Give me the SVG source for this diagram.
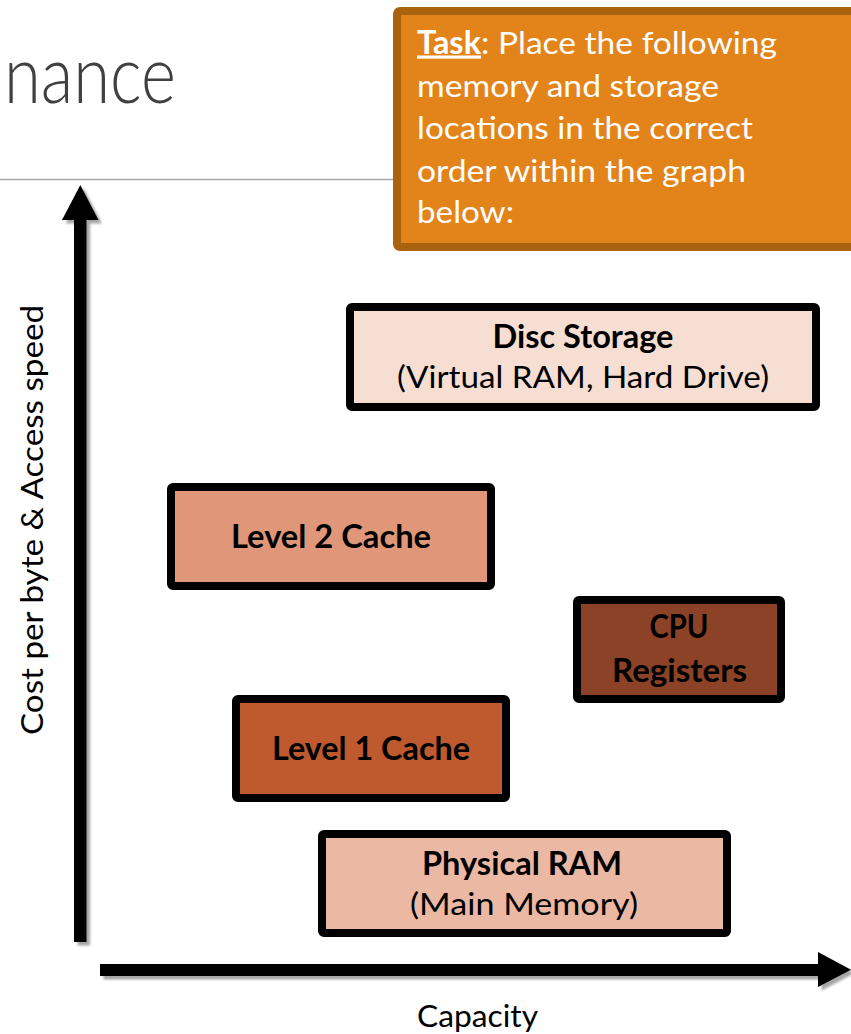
<svg xmlns="http://www.w3.org/2000/svg" width="851" height="1034" viewBox="0 0 851 1034">
<style>
.t{font-family:Lato,"Open Sans","Liberation Sans",sans-serif;font-size:31.5px;fill:#000}
.b{font-weight:bold}
.box{stroke:#000;stroke-width:8}
.w{fill:#fff}
</style>
<defs>
<filter id="sh" x="-10%" y="-10%" width="130%" height="130%">
<feDropShadow dx="3.5" dy="3.5" stdDeviation="1" flood-color="#000" flood-opacity="0.35"/>
</filter>
</defs>
<rect width="851" height="1034" fill="#fff"/>
<text x="176" y="103" text-anchor="end" textLength="172" lengthAdjust="spacingAndGlyphs" style="font-family:Lato,'Open Sans',sans-serif;font-weight:300;font-size:80px;fill:#404040">nance</text>
<line x1="0" y1="179.5" x2="395" y2="179.5" stroke="#a6a6a6" stroke-width="1.5"/>
<g id="task">
<rect x="397" y="11" width="480" height="236" rx="3" fill="#e3841a" stroke="#a9620f" stroke-width="8"/>
<text class="t w" y="53.5"><tspan x="417" class="b" text-decoration="underline" textLength="64" lengthAdjust="spacingAndGlyphs">Task</tspan><tspan x="481" textLength="296" lengthAdjust="spacingAndGlyphs">: Place the following</tspan></text>
<text class="t w" x="417" y="96.5" textLength="302" lengthAdjust="spacingAndGlyphs">memory and storage</text>
<text class="t w" x="417" y="139" textLength="336" lengthAdjust="spacingAndGlyphs">locations in the correct</text>
<text class="t w" x="417" y="181.5" textLength="329" lengthAdjust="spacingAndGlyphs">order within the graph</text>
<text class="t w" x="417" y="223" textLength="97" lengthAdjust="spacingAndGlyphs">below:</text>
</g>
<g id="axes" filter="url(#sh)">
<rect x="74" y="215" width="12.5" height="727" fill="#000"/>
<polygon points="80.3,185 62,220 98.5,220" fill="#000"/>
<rect x="100" y="964" width="722" height="12" fill="#000"/>
<polygon points="818,952 851,969.8 818,987" fill="#000"/>
</g>
<g id="ylabel">
<text class="t" transform="translate(43,520) rotate(-90)" text-anchor="middle" textLength="430" lengthAdjust="spacingAndGlyphs">Cost per byte &amp; Access speed</text>
</g>
<g id="xlabel">
<text class="t" x="477.5" y="1027" text-anchor="middle" textLength="121" lengthAdjust="spacingAndGlyphs">Capacity</text>
</g>
<g id="disc">
<rect class="box" x="350" y="307" width="466" height="100" rx="2" fill="#f6ded2"/>
<text class="t b" x="583" y="348" text-anchor="middle" textLength="181" lengthAdjust="spacingAndGlyphs">Disc Storage</text>
<text class="t" x="583" y="388" text-anchor="middle" textLength="372" lengthAdjust="spacingAndGlyphs">(Virtual RAM, Hard Drive)</text>
</g>
<g id="l2">
<rect class="box" x="171" y="487" width="320" height="99" rx="2" fill="#e09779"/>
<text class="t b" x="331" y="548" text-anchor="middle" textLength="200" lengthAdjust="spacingAndGlyphs">Level 2 Cache</text>
</g>
<g id="cpu">
<rect class="box" x="577" y="600" width="204" height="99" rx="2" fill="#8b4226"/>
<text class="t b" x="679" y="638" text-anchor="middle" textLength="59" lengthAdjust="spacingAndGlyphs">CPU</text>
<text class="t b" x="679.5" y="682" text-anchor="middle" textLength="135" lengthAdjust="spacingAndGlyphs">Registers</text>
</g>
<g id="l1">
<rect class="box" x="236" y="699" width="270" height="99" rx="2" fill="#be5a2e"/>
<text class="t b" x="371" y="760" text-anchor="middle" textLength="198" lengthAdjust="spacingAndGlyphs">Level 1 Cache</text>
</g>
<g id="ram">
<rect class="box" x="322" y="834" width="405" height="99" rx="2" fill="#ebb9a3"/>
<text class="t b" x="522" y="875" text-anchor="middle" textLength="200" lengthAdjust="spacingAndGlyphs">Physical RAM</text>
<text class="t" x="524" y="915" text-anchor="middle" textLength="228" lengthAdjust="spacingAndGlyphs">(Main Memory)</text>
</g>
</svg>
